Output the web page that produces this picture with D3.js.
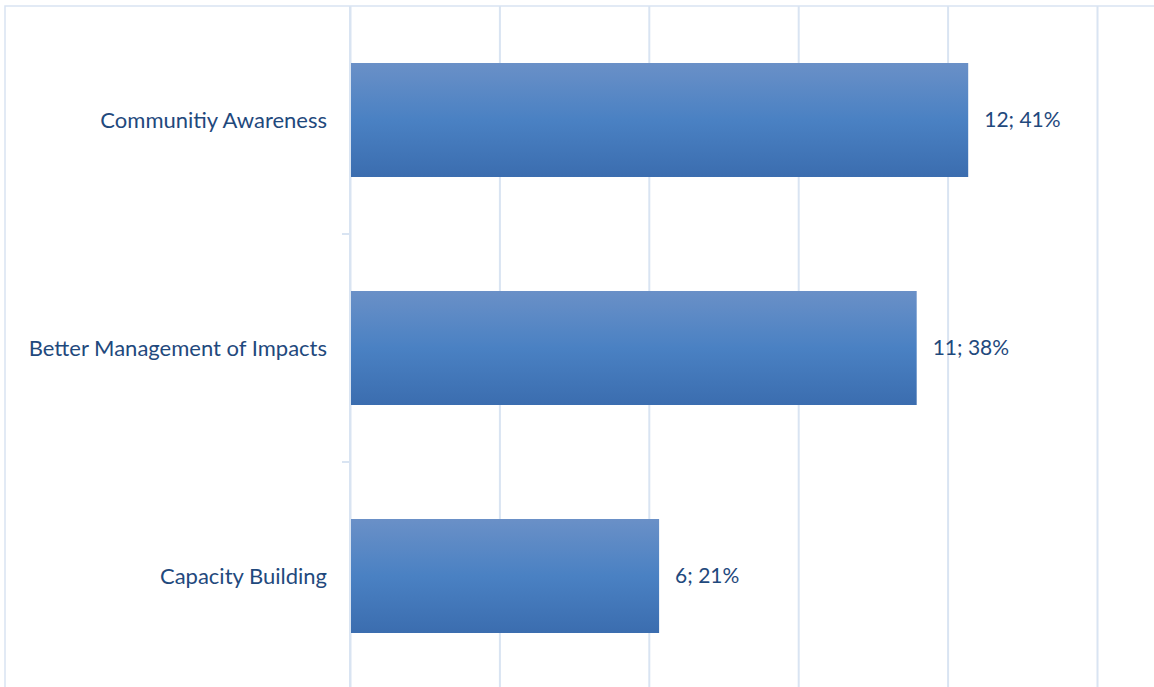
<!DOCTYPE html>
<html>
<head>
<meta charset="utf-8">
<script src="https://cdn.jsdelivr.net/npm/d3@7"></script>
<style>
  body { margin: 0; background: #fff; }
  svg { display: block; }
  .lbl { font-family: Lato, "Open Sans", sans-serif; font-size: 22px; fill: #1f497d; }
  .val { font-size: 21px; }
</style>
</head>
<body>
<div id="chart"></div>
<script>
// categories, counts, x-axis ticks (share of total)
const categories = ["Communitiy Awareness", "Better Management of Impacts", "Capacity Building"];
const counts = [12, 11, 6];
const xTicks = [0, 0.1, 0.2, 0.3, 0.4, 0.5];

const W = 1154, H = 687;
const margin = {top: 6, left: 350};
const plotW = 747;   // 0 .. 50%
const plotH = 684;

const total = d3.sum(counts);
const data = categories.map((c, i) => ({cat: c, n: counts[i], p: counts[i] / total}));

const svg = d3.select("#chart").append("svg")
    .attr("width", W).attr("height", H);

// bar gradient
const grad = svg.append("defs").append("linearGradient")
    .attr("id", "barGrad").attr("x1", 0).attr("y1", 0).attr("x2", 0).attr("y2", 1);
grad.append("stop").attr("offset", "0%").attr("stop-color", "#6a90c7");
grad.append("stop").attr("offset", "50%").attr("stop-color", "#4a81c3");
grad.append("stop").attr("offset", "100%").attr("stop-color", "#3b6daf");

// outer frame (only top/left visible)
svg.append("rect")
    .attr("x", 5).attr("y", 6).attr("width", W + 20).attr("height", H + 20)
    .attr("fill", "none").attr("stroke", "#d9e4f2").attr("stroke-width", 1.5);

const g = svg.append("g").attr("transform", `translate(${margin.left},${margin.top})`);

const x = d3.scaleLinear().domain([0, 0.5]).range([0, plotW]);
const y = d3.scaleBand().domain(categories).range([0, plotH]).paddingInner(0.5).paddingOuter(0.25);

// vertical gridlines
g.append("g")
    .attr("class", "grid")
    .call(d3.axisTop(x).tickValues(xTicks).tickSize(-plotH).tickFormat(""))
    .call(s => s.select(".domain").remove())
    .call(s => s.selectAll("line").attr("stroke", "#d9e4f2").attr("stroke-width", 2));

// category axis with tick marks between bands
const yAxis = g.append("g");
yAxis.append("line")
    .attr("x1", 0).attr("x2", 0).attr("y1", 0).attr("y2", plotH)
    .attr("stroke", "#d9e4f2").attr("stroke-width", 2);
yAxis.selectAll("line.tick")
    .data(d3.range(1, categories.length))
    .join("line")
    .attr("class", "tick")
    .attr("x1", -8).attr("x2", 0)
    .attr("y1", d => d * plotH / categories.length)
    .attr("y2", d => d * plotH / categories.length)
    .attr("stroke", "#d9e4f2").attr("stroke-width", 2);

yAxis.selectAll("text")
    .data(categories)
    .join("text")
    .attr("class", "lbl")
    .attr("x", -23)
    .attr("y", d => y(d) + y.bandwidth() / 2)
    .attr("dy", "0.35em")
    .attr("text-anchor", "end")
    .text(d => d);

// bars
g.selectAll("rect.bar")
    .data(data)
    .join("rect")
    .attr("class", "bar")
    .attr("x", x(0) + 1)
    .attr("y", d => y(d.cat))
    .attr("width", d => x(d.p) - 1)
    .attr("height", y.bandwidth())
    .attr("fill", "url(#barGrad)");

// data labels "n; p%"
g.selectAll("text.val")
    .data(data)
    .join("text")
    .attr("class", "lbl val")
    .attr("x", d => x(d.p) + 16)
    .attr("y", d => y(d.cat) + y.bandwidth() / 2)
    .attr("dy", "0.35em")
    .text(d => `${d.n}; ${Math.round(d.p * 100)}%`);
</script>
</body>
</html>
